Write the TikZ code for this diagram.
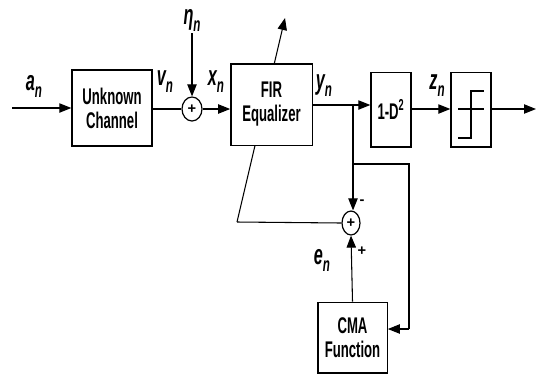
\documentclass[tikz,border=0pt]{standalone}
\usepackage{fontspec}
\usepackage{tikz}
\usetikzlibrary{arrows.meta,shapes.geometric}
\newfontfamily\blockfont[FakeStretch=0.58]{Liberation Sans}
\newfontfamily\signfont{Liberation Sans}
\newcommand{\sig}[2]{{\blockfont\bfseries\itshape\fontsize{21}{21}\selectfont #1\raisebox{-0.25em}{\fontsize{15}{15}\selectfont #2}}}

\tikzset{
    blk/.style = {draw, fill = white, line width = 1pt, align = center, font = \blockfont\bfseries\fontsize{17}{18}\selectfont},
    summer/.style = {draw, ellipse, line width = 0.9pt, inner sep = 0pt, minimum width = 15pt, minimum height = 18pt, font = \signfont\bfseries\fontsize{11}{11}\selectfont},
    sign/.style = {font = \signfont\bfseries\fontsize{11}{11}\selectfont},
    sigline/.style = {line width = 0.8pt},
    sigarrow/.style = {sigline, -{Triangle[length = 9pt, width = 7pt]}}
}

\begin{document}
\begin{tikzpicture}[x = 0.75pt, y = -0.75pt]
        \useasboundingbox (0, 0) rectangle (545, 376);

        \coordinate (in) at (12, 108);
        \coordinate (out) at (536, 109);
        \coordinate (noise) at (192, 33);
        \coordinate (split) at (353, 105);
        \coordinate (tapstart) at (237, 222);
        \coordinate (tapend) at (285, 18);
        \coordinate (fbtop) at (353, 164);
        \coordinate (fbright) at (409, 164);
        \coordinate (fbcorner) at (409, 329);

        \draw [sigline, -{Triangle[length = 9pt, width = 7pt]}] (tapstart) -- (tapend);

        \node [blk, minimum width = 60pt, minimum height = 57pt] (chan) at (112, 108) {Unknown\\Channel};
        \node [summer] (sumx) at (192, 109) {+};
        \node [blk, minimum width = 61pt, minimum height = 61pt] (fir) at (271.5, 104.5) {FIR\\Equalizer};
        \node [blk, minimum width = 30pt, minimum height = 56pt] (dbox) at (391, 109.5) {1-D\textsuperscript{2}};
        \node [blk, minimum width = 30pt, minimum height = 56pt] (slicer) at (471, 109.5) {};
        \node [summer, minimum width = 13.5pt] (sume) at (351, 223) {+};
        \node [blk, minimum width = 52pt, minimum height = 53pt] (cma) at (352.5, 337.5) {CMA\\Function};

        \node (an) at (34, 86) {\sig{a}{n}};
        \node (vn) at (165, 82) {\sig{v}{n}};
        \node (etan) at (192, 20) {\sig{η}{n}};
        \node (xn) at (216, 82) {\sig{x}{n}};
        \node (yn) at (324, 86) {\sig{y}{n}};
        \node (zn) at (437, 86) {\sig{z}{n}};
        \node (en) at (322, 260) {\sig{e}{n}};
        \node [sign] (minus) at (362, 202) {-};
        \node [sign] (plus) at (362, 251) {+};

        \draw [sigarrow] (in) -- (in -| chan.west);
        \draw [sigline] (chan.east |- sumx) -- (sumx);
        \draw [sigarrow] (noise) -- (sumx.north);
        \draw [sigarrow] (sumx.east) -- (sumx -| fir.west);
        \draw [sigarrow] (fir.east |- split) -- (split -| dbox.west);
        \draw [sigarrow] (dbox.east |- out) -- (out -| slicer.west);
        \draw [sigarrow] (slicer.east |- out) -- (out);

        \draw [sigline] (tapstart) -- (sume.west);
        \draw [sigarrow] (split) -- (split |- sume.north);
        \draw [sigline] (fbtop) -- (fbright) -- (fbcorner);
        \draw [sigarrow] (fbcorner) -- (fbcorner -| cma.east);
        \draw [sigarrow] (cma.north) -- (sume.south);

        \draw [line width = 0.9pt] (458, 109) -- (484, 109);
        \draw [line width = 0.9pt] (458, 138) -- (471, 138) -- (471, 91) -- (484, 91);
    \end{tikzpicture}
\end{document}
